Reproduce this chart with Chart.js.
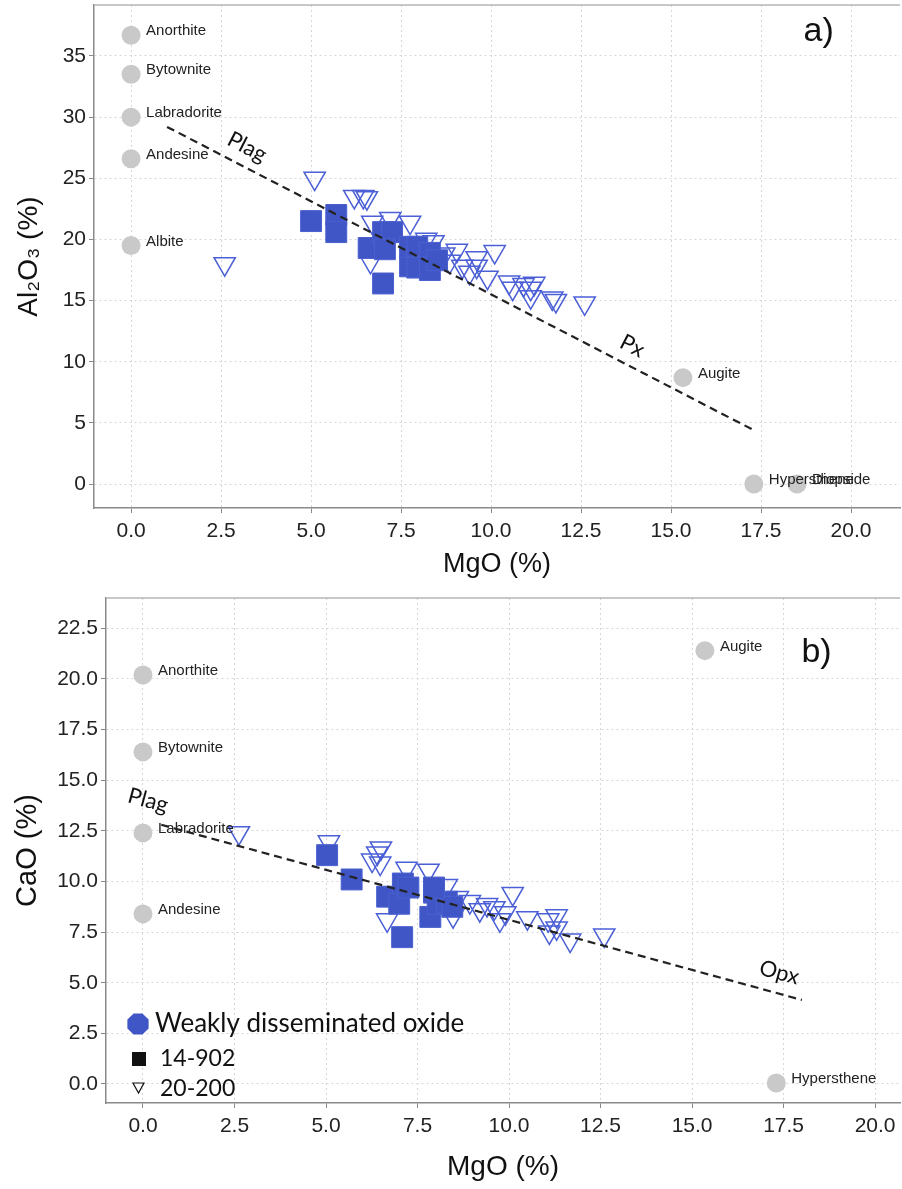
<!DOCTYPE html>
<html>
<head>
<meta charset="utf-8">
<script src="https://cdn.jsdelivr.net/npm/chart.js@4.4.1/dist/chart.umd.min.js"></script>
<style>
  body { margin: 0; background: #fff; }
  #chartA { position: absolute; left: 0; top: 0; }
  #chartB { position: absolute; left: 0; top: 590px; }
</style>
</head>
<body>
<canvas id="chartA" width="902" height="590"></canvas>
<canvas id="chartB" width="902" height="599"></canvas>
<script>
// ---- panel a) Al2O3 vs MgO ----
var mineralsA = ['Anorthite', 'Bytownite', 'Labradorite', 'Andesine', 'Albite', 'Augite', 'Hypersthene', 'Diopside'];
var mineralsA_MgO = [0, 0, 0, 0, 0, 15.33, 17.3, 18.5];
var mineralsA_Al2O3 = [36.7, 33.5, 30.0, 26.6, 19.5, 8.7, 0, 0];

var s14A_MgO = [5.0, 5.7, 5.7, 6.6, 7.0, 7.25, 7.05, 7.0, 7.75, 7.75, 7.95, 8.3, 7.95, 8.3, 8.5];
var s14A_Al2O3 = [21.5, 22.0, 20.6, 19.3, 20.6, 20.6, 19.2, 16.4, 17.8, 19.4, 19.4, 18.9, 17.7, 17.5, 18.3];

var s20A_MgO = [2.6, 5.1, 6.2, 6.45, 6.55, 6.7, 7.2, 7.75, 6.65, 8.2, 8.4, 9.05, 8.85, 9.2, 9.6, 9.6, 9.4, 9.9, 10.1, 10.5, 10.6, 10.9, 11.1, 11.2, 11.1, 11.7, 11.8, 12.6, 8.7];
var s20A_Al2O3 = [18.0, 25.0, 23.5, 23.5, 23.4, 21.4, 21.7, 21.4, 18.2, 20.0, 19.8, 19.1, 18.2, 17.8, 18.5, 17.8, 17.3, 16.9, 19.0, 16.5, 16.0, 16.3, 16.0, 16.4, 15.3, 15.2, 15.0, 14.8, 18.8];

var trendA = [[1.0, 29.2], [17.3, 4.4]];

var xTicksA = [0, 2.5, 5, 7.5, 10, 12.5, 15, 17.5, 20];
var yTicksA = [0, 5, 10, 15, 20, 25, 30, 35];

// ---- panel b) CaO vs MgO ----
var mineralsB = ['Anorthite', 'Bytownite', 'Labradorite', 'Andesine', 'Augite', 'Hypersthene'];
var mineralsB_MgO = [0, 0, 0, 0, 15.35, 17.3];
var mineralsB_CaO = [20.2, 16.4, 12.4, 8.4, 21.4, 0.05];

var s14B_MgO = [5.03, 5.7, 6.67, 7.0, 7.1, 7.25, 7.08, 7.85, 7.95, 8.05, 8.3, 8.45, 7.95];
var s14B_CaO = [11.3, 10.1, 9.25, 8.9, 9.9, 9.7, 7.25, 8.25, 9.45, 8.9, 9.0, 8.75, 9.7];

var s20B_MgO = [2.62, 5.08, 6.5, 6.26, 6.48, 6.67, 7.2, 7.8, 8.3, 8.47, 8.93, 9.4, 9.6, 9.9, 9.75, 10.1, 10.5, 11.07, 11.3, 11.3, 11.1, 11.67, 12.6, 6.4, 8.6, 9.2];
var s20B_CaO = [12.4, 11.95, 11.65, 11.05, 10.9, 8.1, 10.65, 10.55, 9.8, 8.3, 9.0, 8.85, 8.7, 8.45, 8.1, 9.4, 8.2, 8.1, 8.3, 7.7, 7.5, 7.1, 7.35, 11.4, 9.2, 8.6];

var trendB = [[0.5, 12.8], [18.0, 4.15]];

var xTicksB = [0, 2.5, 5, 7.5, 10, 12.5, 15, 17.5, 20];
var yTicksB = [0, 2.5, 5, 7.5, 10, 12.5, 15, 17.5, 20, 22.5];

var BLUE = '#4156c6';
var TICKFONT = '"Liberation Sans", Arial, sans-serif';
var NOTEFONT = 'Lato, "Open Sans", sans-serif';

function pts(xs, ys) {
  return xs.map(function(x, i) { return {x: x, y: ys[i]}; });
}

function datasets(trend, mx, my, sx14, sy14, sx20, sy20) {
  return [
    { data: pts([trend[0][0], trend[1][0]], [trend[0][1], trend[1][1]]), showLine: true,
      borderColor: '#222', borderWidth: 2.2, borderDash: [8, 5], pointRadius: 0 },
    { data: pts(sx14, sy14), pointStyle: 'rect', pointRadius: 14.8,
      backgroundColor: BLUE, borderColor: '#4a60d0', borderWidth: 1 },
    { data: pts(sx20, sy20), pointStyle: 'triangle', rotation: 180, pointRadius: 12.3,
      backgroundColor: 'rgba(0,0,0,0)', borderColor: '#4b5fd6', borderWidth: 1.5 },
    { data: pts(mx, my), pointStyle: 'circle', pointRadius: 9.5,
      backgroundColor: '#c9c9c9', borderWidth: 0 }
  ];
}

function noPad() { return {left: 0, top: 0, right: 0, bottom: 0}; }

function axis(min, max, ticks, dec, title, titlePad, fitKey, fitVal, tickPad, titleSize) {
  return {
    type: 'linear', min: min, max: max,
    afterBuildTicks: function(s) { s.ticks = ticks.map(function(v) { return {value: v}; }); },
    afterFit: function(s) {
      s[fitKey] = fitVal;
      // let the plot area reach the canvas edges like the original
      s.paddingTop = 0; s.paddingBottom = 0; s.paddingLeft = 0; s.paddingRight = 0;
      s.getPadding = noPad;
    },
    ticks: {
      autoSkip: false, maxRotation: 0, padding: tickPad,
      color: '#222', font: {family: TICKFONT, size: 21},
      callback: function(v) { return dec ? Number(v).toFixed(1) : String(v); }
    },
    grid: { color: '#d6d6d6', lineWidth: 1, tickLength: 5, tickColor: '#888', tickBorderDash: [] },
    border: { color: '#8a8a8a', width: 1.5, dash: [2, 3] },
    title: { display: true, text: title, color: '#111', font: {family: TICKFONT, size: titleSize}, padding: titlePad }
  };
}

var notes = {
  id: 'notes',
  afterDatasetsDraw: function(chart, args, o) {
    var ctx = chart.ctx, xs = chart.scales.x, ys = chart.scales.y, ca = chart.chartArea;
    ctx.save();
    ctx.strokeStyle = '#b4b4b4';
    ctx.lineWidth = 1.5;
    ctx.beginPath();
    ctx.moveTo(ca.left, ca.top);
    ctx.lineTo(ca.right, ca.top);
    ctx.stroke();

    ctx.fillStyle = '#222';
    ctx.font = '15px ' + TICKFONT;
    ctx.textBaseline = 'middle';
    ctx.textAlign = 'left';
    o.names.forEach(function(n, i) {
      ctx.fillText(n, xs.getPixelForValue(o.nx[i]) + 15, ys.getPixelForValue(o.ny[i]) - 4);
    });

    var ln = o.line;
    var ang = Math.atan2(ys.getPixelForValue(ln[1][1]) - ys.getPixelForValue(ln[0][1]),
                         xs.getPixelForValue(ln[1][0]) - xs.getPixelForValue(ln[0][0]));
    o.notes.forEach(function(n) {
      ctx.save();
      ctx.translate(xs.getPixelForValue(n.x), ys.getPixelForValue(n.y));
      if (n.tilt) ctx.rotate(ang);
      ctx.font = n.font;
      ctx.textAlign = 'center';
      ctx.fillStyle = '#111';
      ctx.fillText(n.t, 0, 0);
      ctx.restore();
    });

    if (o.legend) {
      var lx = ca.left + 32, ly = ca.top + 426;
      // octagon
      ctx.fillStyle = BLUE;
      ctx.beginPath();
      for (var k = 0; k < 8; k++) {
        var a = Math.PI / 8 + k * Math.PI / 4;
        var px = lx + 11.5 * Math.cos(a), py = ly + 11.5 * Math.sin(a);
        if (k === 0) ctx.moveTo(px, py); else ctx.lineTo(px, py);
      }
      ctx.closePath();
      ctx.fill();
      ctx.fillStyle = '#111';
      ctx.font = '26px ' + NOTEFONT;
      ctx.textAlign = 'left';
      ctx.fillText('Weakly disseminated oxide', lx + 17, ly);
      // square
      ctx.fillRect(lx - 6, ly + 28, 14, 14);
      ctx.font = '23px ' + NOTEFONT;
      ctx.fillText('14-902', lx + 22, ly + 35);
      // triangle
      ctx.strokeStyle = '#111';
      ctx.lineWidth = 1.2;
      ctx.beginPath();
      ctx.moveTo(lx - 5, ly + 59);
      ctx.lineTo(lx + 6, ly + 59);
      ctx.lineTo(lx + 0.5, ly + 69);
      ctx.closePath();
      ctx.stroke();
      ctx.fillText('20-200', lx + 22, ly + 65);
    }
    ctx.restore();
  }
};

new Chart(document.getElementById('chartA'), {
  type: 'scatter',
  data: { datasets: datasets(trendA, mineralsA_MgO, mineralsA_Al2O3, s14A_MgO, s14A_Al2O3, s20A_MgO, s20A_Al2O3) },
  options: {
    responsive: false, animation: false, devicePixelRatio: 1,
    layout: { autoPadding: false, padding: {top: 5, right: 2, left: 0, bottom: 0} },
    scales: {
      x: axis(-1.03, 21.36, xTicksA, true, 'MgO (%)', {top: 0, bottom: 9}, 'height', 82, 6, 27),
      y: axis(-1.96, 39.17, yTicksA, false, 'Al\u2082O\u2083 (%)', {top: 12, bottom: 0}, 'width', 94, 3, 28)
    },
    plugins: {
      legend: {display: false}, tooltip: {enabled: false},
      notes: {
        names: mineralsA, nx: mineralsA_MgO, ny: mineralsA_Al2O3, line: trendA, legend: false,
        notes: [
          {t: 'Plag', x: 3.22, y: 27.55, tilt: true, font: '22px ' + NOTEFONT},
          {t: 'Px', x: 13.92, y: 11.28, tilt: true, font: '22px ' + NOTEFONT},
          {t: 'a)', x: 19.1, y: 37.0, tilt: false, font: '34px ' + TICKFONT}
        ]
      }
    }
  },
  plugins: [notes]
});

new Chart(document.getElementById('chartB'), {
  type: 'scatter',
  data: { datasets: datasets(trendB, mineralsB_MgO, mineralsB_CaO, s14B_MgO, s14B_CaO, s20B_MgO, s20B_CaO) },
  options: {
    responsive: false, animation: false, devicePixelRatio: 1,
    layout: { autoPadding: false, padding: {top: 8, right: 2, left: 0, bottom: 0} },
    scales: {
      x: axis(-1.01, 20.68, xTicksB, true, 'MgO (%)', {top: 0, bottom: 5}, 'height', 86, 6, 28),
      y: axis(-0.94, 24.0, yTicksB, true, 'CaO (%)', {top: 11, bottom: 0}, 'width', 106, 3, 29)
    },
    plugins: {
      legend: {display: false}, tooltip: {enabled: false},
      notes: {
        names: mineralsB, nx: mineralsB_MgO, ny: mineralsB_CaO, line: trendB, legend: true,
        notes: [
          {t: 'Plag', x: 0.14, y: 14.0, tilt: true, font: '22px ' + NOTEFONT},
          {t: 'Opx', x: 17.38, y: 5.5, tilt: true, font: '22px ' + NOTEFONT},
          {t: 'b)', x: 18.4, y: 21.3, tilt: false, font: '34px ' + TICKFONT}
        ]
      }
    }
  },
  plugins: [notes]
});
</script>
</body>
</html>
